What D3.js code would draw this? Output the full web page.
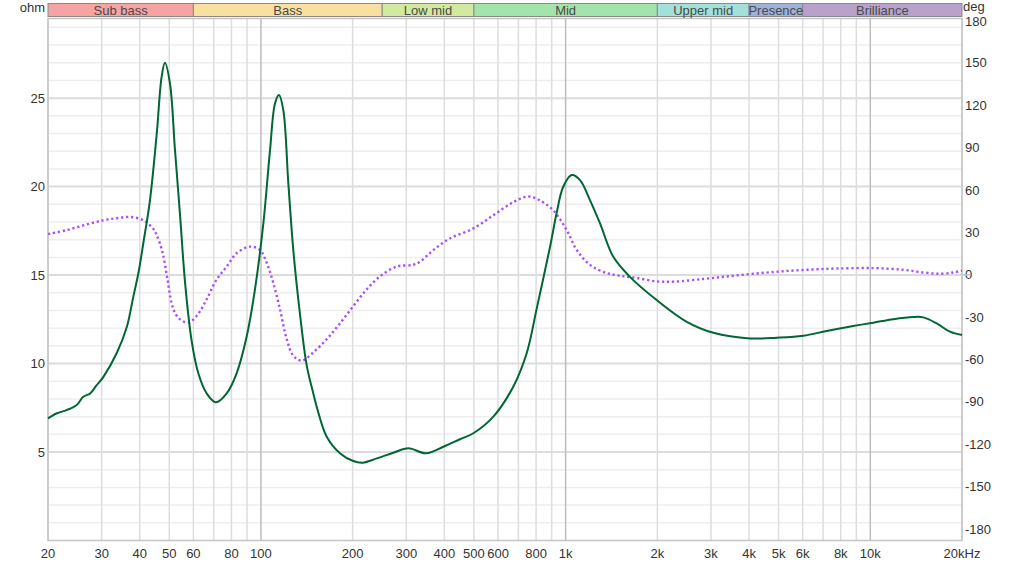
<!DOCTYPE html>
<html><head><meta charset="utf-8">
<script src="https://cdn.jsdelivr.net/npm/d3@7"></script>
<style>body{margin:0;background:#fff}svg{display:block;font-family:"Liberation Sans",Arial,sans-serif}</style>
</head><body><svg id="c" width="1024" height="567"></svg>
<script>
// ---- data ----
const impFreq = [20,21.4,23,24.85,26.1,27.5,28.8,30.4,33.6,36.3,38.1,39.6,41.1,43.2,45.5,47.2,48.4,50.3,52.2,54.3,56.4,59.2,62.3,66.3,71.1,77.2,83.2,89.7,95.5,101.8,107.1,111.2,114.6,118.4,123,127.7,134.3,141.3,148.5,152.4,164.4,181.6,200.9,215.8,240,272,304.6,348,397,450,498,579,673,745,804,889,934,982,1047,1115,1202,1297,1434,1626,1990,2498,3054,4028,4931,6026,7194,8794,10234,11902,13840,14928,16520,18260,20000];
const impOhm  = [6.90,7.19,7.37,7.66,8.12,8.31,8.75,9.25,10.58,12.08,13.77,15.1,16.8,19.2,23.0,26.2,27.0,25.8,22.1,18.3,14.5,11.3,9.45,8.32,7.81,8.32,9.45,11.5,14.15,17.9,22.06,24.7,25.17,24.32,20.18,16.41,12.8,9.9,8.32,7.56,5.86,4.93,4.49,4.40,4.64,4.96,5.21,4.93,5.3,5.72,6.06,7.0,8.69,10.58,13.12,16.6,18.49,19.99,20.65,20.37,19.24,17.92,16.03,14.9,13.59,12.36,11.74,11.42,11.46,11.57,11.84,12.12,12.31,12.51,12.63,12.61,12.27,11.8,11.61];
const phaseFreq = [20,23,26.8,30.4,33.5,37.2,41.1,44.3,45.5,47.5,49.3,50.9,52.5,54.3,57.7,61.5,66.3,71.5,77.2,83.2,92,99.3,104.5,109.8,115.5,121.5,127.7,136,148.5,164.4,181.6,200.9,222,245.8,279,316,333,368,417,498,579,673,754,824,911,1008,1088,1202,1364,1508,1710,1990,2258,2832,3380,4130,5054,6180,7756,10234,12832,14928,16940,18730,20000];
const phaseDeg  = [28.8,31.6,35.6,38.6,40.0,40.9,38.6,32.5,28,16,-3,-20,-28,-31.6,-33.9,-29.2,-17.5,-3.5,5.8,15.2,19.9,17.5,8.2,-5.8,-24.6,-45.6,-57.3,-60.8,-55,-45.6,-34.5,-22.2,-10.5,-1.2,5.8,7.0,9.3,17.5,25.7,32.8,42.1,51.4,55.4,52.6,45.6,31.6,17.5,7.0,1.2,-0.7,-2.3,-4.7,-4.9,-3.0,-1.2,0.7,2.3,3.5,4.4,4.7,3.5,1.6,0.7,1.6,3.0];
const bandNames = ["Sub bass","Bass","Low mid","Mid","Upper mid","Presence","Brilliance"];
const bandEdges = [20,60,250,500,2000,4000,6000,20000];
const xTickVals   = [20,30,40,50,60,80,100,200,300,400,500,600,800,1000,2000,3000,4000,5000,6000,8000,10000,20000];
const xTickLabels = ["20","30","40","50","60","80","100","200","300","400","500","600","800","1k","2k","3k","4k","5k","6k","8k","10k","20kHz"];
const xGridVals = [20,30,40,50,60,70,80,90,100,200,300,400,500,600,700,800,900,1000,2000,3000,4000,5000,6000,7000,8000,9000,10000,20000];
const ohmTicks = [5,10,15,20,25];
const degTicks = [180,150,120,90,60,30,0,-30,-60,-90,-120,-150,-180];

// ---- styles ----
const bandColors = ["#f6a3a3","#f8e0a0","#d2eaa0","#a3e4ab","#a3e0da","#a0b2da","#b8a2cc"];

const svg = d3.select("#c");
const L=48,R=962,T=18.5,B=540.5;
const x = d3.scaleLog().domain([20,20000]).range([L,R]);
const yO = d3.scaleLinear().domain([0,29.5]).range([B,T]);
const yD = d3.scaleLinear().domain([-180,180]).range([529,20.5]);

// horizontal grid (ohm)
const hg = d3.range(1,30);
svg.append("g").selectAll("line").data(hg).join("line")
  .attr("x1",L).attr("x2",R).attr("y1",d=>yO(d)).attr("y2",d=>yO(d))
  .attr("stroke",d=>d%5===0?"#dcdcdc":"#eeeeee").attr("stroke-width",d=>d%5===0?2:1.5);
// vertical grid
svg.append("g").selectAll("line").data(xGridVals).join("line")
  .attr("x1",d=>x(d)).attr("x2",d=>x(d)).attr("y1",T).attr("y2",B)
  .attr("stroke",d=>[100,1000,10000].includes(d)?"#bcbcbc":"#dddddd").attr("stroke-width",1.5);
// frame
svg.append("rect").attr("x",L).attr("y",T).attr("width",R-L).attr("height",B-T)
  .attr("fill","none").attr("stroke","#c4c4c4").attr("stroke-width",1.5);

// bands
const bg = svg.append("g");
bg.selectAll("rect").data(bandNames).join("rect")
  .attr("x",(d,i)=>x(bandEdges[i])).attr("y",3.5)
  .attr("width",(d,i)=>x(bandEdges[i+1])-x(bandEdges[i])).attr("height",13)
  .attr("fill",(d,i)=>bandColors[i]).attr("stroke","#8a8a8a").attr("stroke-width",1);
bg.selectAll("text").data(bandNames).join("text")
  .attr("x",(d,i)=>(x(bandEdges[i])+x(bandEdges[i+1]))/2).attr("y",14.5)
  .attr("text-anchor","middle").attr("font-size",13).attr("fill","#4a4a4a").text(d=>d);

// axis labels
svg.append("g").selectAll("text").data(ohmTicks).join("text")
  .attr("x",45).attr("y",d=>yO(d)+4.5).attr("text-anchor","end")
  .attr("font-size",13).attr("fill","#333").text(d=>d);
svg.append("g").selectAll("text").data(degTicks).join("text")
  .attr("x",965).attr("y",d=>d===180?yD(d)+5.5:yD(d)+4.5).attr("text-anchor","start")
  .attr("font-size",13).attr("fill","#333").text(d=>d);
svg.append("g").selectAll("text").data(xTickVals).join("text")
  .attr("x",d=>x(d)).attr("y",558).attr("text-anchor","middle")
  .attr("font-size",13).attr("fill","#333").text((d,i)=>xTickLabels[i]);
svg.append("text").attr("x",45).attr("y",12).attr("text-anchor","end").attr("font-size",13).attr("fill","#333").text("ohm");
svg.append("text").attr("x",963).attr("y",11.2).attr("text-anchor","start").attr("font-size",13).attr("fill","#333").text("deg");
// zero-phase marker
svg.append("line").attr("x1",R+1).attr("x2",R+8).attr("y1",yD(0)).attr("y2",yD(0)).attr("stroke","#a8c8ec").attr("stroke-width",1.5);

// curves
const phaseLine = d3.line().x(d=>x(d[0])).y(d=>yD(d[1])).curve(d3.curveCatmullRom.alpha(0.5));
svg.append("path").datum(phaseFreq.map((f,i)=>[f,phaseDeg[i]]))
  .attr("d",phaseLine).attr("fill","none").attr("stroke","#a64dff")
  .attr("stroke-width",2.4).attr("stroke-dasharray","2.2,2.8");
const impLine = d3.line().x(d=>x(d[0])).y(d=>yO(d[1])).curve(d3.curveCatmullRom.alpha(0.5));
svg.append("path").datum(impFreq.map((f,i)=>[f,impOhm[i]]))
  .attr("d",impLine).attr("fill","none").attr("stroke","#006633").attr("stroke-width",2);
</script></body></html>
